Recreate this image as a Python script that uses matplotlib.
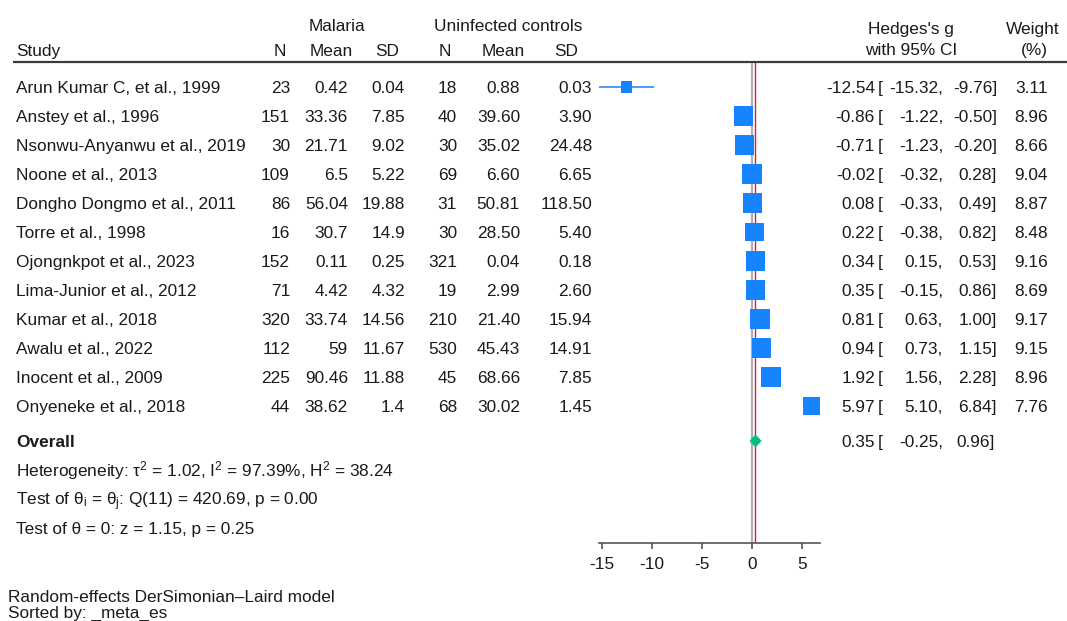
import matplotlib
matplotlib.use("Agg")
import matplotlib.pyplot as plt
from matplotlib.patches import Polygon
import numpy as np

# ---------------- data ----------------
studies = ["Arun Kumar C, et al., 1999", "Anstey et al., 1996", "Nsonwu-Anyanwu et al., 2019",
           "Noone et al., 2013", "Dongho Dongmo et al., 2011", "Torre et al., 1998",
           "Ojongnkpot et al., 2023", "Lima-Junior et al., 2012", "Kumar et al., 2018",
           "Awalu et al., 2022", "Inocent et al., 2009", "Onyeneke et al., 2018"]
n1 = [23, 151, 30, 109, 86, 16, 152, 71, 320, 112, 225, 44]
mean1 = [0.42, 33.36, 21.71, 6.5, 56.04, 30.7, 0.11, 4.42, 33.74, 59, 90.46, 38.62]
sd1 = [0.04, 7.85, 9.02, 5.22, 19.88, 14.9, 0.25, 4.32, 14.56, 11.67, 11.88, 1.4]
n2 = [18, 40, 30, 69, 31, 30, 321, 19, 210, 530, 45, 68]
mean2 = [0.88, 39.60, 35.02, 6.60, 50.81, 28.50, 0.04, 2.99, 21.40, 45.43, 68.66, 30.02]
sd2 = [0.03, 3.90, 24.48, 6.65, 118.50, 5.40, 0.18, 2.60, 15.94, 14.91, 7.85, 1.45]
es = [-12.54, -0.86, -0.71, -0.02, 0.08, 0.22, 0.34, 0.35, 0.81, 0.94, 1.92, 5.97]
lo = [-15.32, -1.22, -1.23, -0.32, -0.33, -0.38, 0.15, -0.15, 0.63, 0.73, 1.56, 5.10]
hi = [-9.76, -0.50, -0.20, 0.28, 0.49, 0.82, 0.53, 0.86, 1.00, 1.15, 2.28, 6.84]
weight = [3.11, 8.96, 8.66, 9.04, 8.87, 8.48, 9.16, 8.69, 9.17, 9.15, 8.96, 7.76]
overall_es, overall_lo, overall_hi = 0.35, -0.25, 0.96
xticks = [-15, -10, -5, 0, 5]

# ---------------- style ----------------
plt.rcParams['font.family'] = ['Liberation Sans', 'DejaVu Sans']
plt.rcParams['mathtext.fontset'] = 'custom'
plt.rcParams['mathtext.rm'] = 'Liberation Sans'
FS = 12.4
BLUE = '#1683ff'
GREEN = '#00bf7f'
RED = '#e01a3c'
TXT = '#1a1a1a'

W, H = 1067, 621
fig = plt.figure(figsize=(W / 100, H / 100), dpi=100)

# text layer in pixel coordinates
tax = fig.add_axes([0, 0, 1, 1])
tax.set_xlim(0, W)
tax.set_ylim(H, 0)
tax.axis('off')

ROW0, DY = 87, 29
OVR_Y = 441
AX_TOP, AX_BOT = 63, 543
BASE = 6.2  # baseline offset below visual centre of capitals

def t(x, y, s, ha='left', **kw):
    tax.text(x, y + BASE, s, ha=ha, va='baseline', fontsize=FS, color=TXT, **kw)

# headers
t(337, 25, "Malaria", ha='center')
t(508, 25, "Uninfected controls", ha='center')
t(16, 50, "Study")
for x, s in [(280, "N"), (331, "Mean"), (387, "SD"), (445, "N"), (503, "Mean"), (566, "SD")]:
    t(x, 50, s, ha='center')
t(911, 28, "Hedges's g", ha='center')
t(911, 49, "with 95% CI", ha='center')
t(1033, 28, "Weight", ha='center')
t(1034, 49, "(%)", ha='center')
tax.plot([13, W], [62, 62], color='#3a3a3a', lw=1.6, solid_capstyle='butt')

def g(v):
    return "{:g}".format(v)

for i, name in enumerate(studies):
    y = ROW0 + DY * i
    t(16, y, name)
    t(290, y, str(n1[i]), ha='right')
    t(348, y, g(mean1[i]), ha='right')
    t(405, y, g(sd1[i]), ha='right')
    t(457, y, str(n2[i]), ha='right')
    t(520, y, "%.2f" % mean2[i], ha='right')
    t(592, y, "%.2f" % sd2[i], ha='right')
    t(875, y, "%.2f" % es[i], ha='right')
    t(878, y, "[")
    t(943, y, "%.2f," % lo[i], ha='right')
    t(997, y, "%.2f]" % hi[i], ha='right')
    t(1048, y, "%.2f" % weight[i], ha='right')

t(16, OVR_Y, "Overall", fontweight='bold')
t(875, OVR_Y, "%.2f" % overall_es, ha='right')
t(878, OVR_Y, "[")
t(943, OVR_Y, "%.2f," % overall_lo, ha='right')
t(995, OVR_Y, "%.2f]" % overall_hi, ha='right')

t(16, 470, r"Heterogeneity: τ$\mathregular{^2}$ = 1.02, I$\mathregular{^2}$ = 97.39%, H$\mathregular{^2}$ = 38.24")
t(16, 499, r"Test of θ$\mathregular{_i}$ = θ$\mathregular{_j}$: Q(11) = 420.69, p = 0.00")
t(16, 528, "Test of θ = 0: z = 1.15, p = 0.25")
t(8, 596, "Random-effects DerSimonian–Laird model")
t(8, 612, "Sorted by: _meta_es")

# ---------------- forest axes ----------------
xmin, xmax = min(lo), max(hi)
PX_PER_UNIT = 10.0
left_px = 752 + PX_PER_UNIT * xmin
right_px = 752 + PX_PER_UNIT * xmax
ax = fig.add_axes([left_px / W, (H - AX_BOT) / H, (right_px - left_px) / W, (AX_BOT - AX_TOP) / H])
ax.patch.set_visible(False)
ax.set_xlim(xmin, xmax)
ax.set_ylim((AX_BOT - ROW0) / DY, -(ROW0 - AX_TOP) / DY)

ax.axvline(0, color='#b0b0b0', lw=1.6, zorder=1)
ax.axvline(overall_es, color=RED, lw=1.0, zorder=2)

rows = np.arange(len(studies))
ax.hlines(rows, lo, hi, color=BLUE, lw=1.1, zorder=3)
side_px = 6.5 * np.sqrt(np.array(weight))
ax.scatter(es, rows, marker='s', s=(side_px * 0.72) ** 2, color=BLUE, linewidths=0, zorder=4)

oy = (OVR_Y - ROW0) / DY
hh = 6.5 / DY
ax.add_patch(Polygon([(overall_lo, oy), (overall_es, oy - hh), (overall_hi, oy), (overall_es, oy + hh)],
                     closed=True, color=GREEN, lw=0, zorder=5))

for s in ['top', 'left', 'right']:
    ax.spines[s].set_visible(False)
ax.spines['bottom'].set_color('#555555')
ax.spines['bottom'].set_linewidth(1.2)
ax.set_yticks([])
ax.set_xticks(xticks)
ax.set_xticklabels([str(v) for v in xticks])
ax.tick_params(axis='x', direction='out', length=4, width=1.2, color='#555555',
               labelsize=FS, labelcolor=TXT, pad=6)

fig.savefig("out.png", dpi=100)
